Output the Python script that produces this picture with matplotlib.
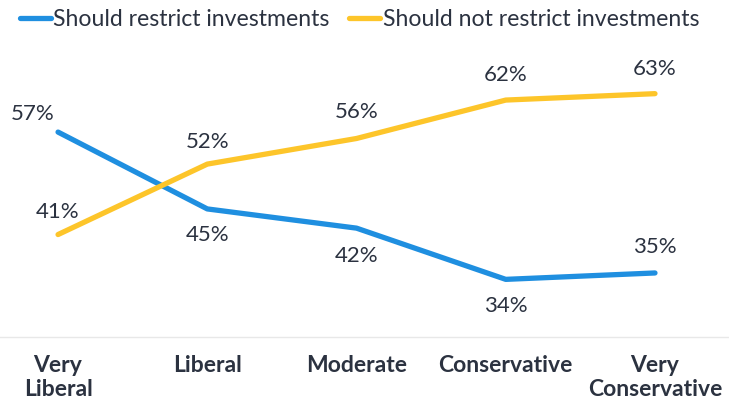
import matplotlib.pyplot as plt

plt.rcParams['font.family'] = ['Lato', 'DejaVu Sans']

# data
categories = ['Very\nLiberal', 'Liberal', 'Moderate', 'Conservative', 'Very\nConservative']
restrict = [57, 45, 42, 34, 35]
not_restrict = [41, 52, 56, 62, 63]

blue = '#1f8fe0'
yellow = '#fdc52a'
text_col = '#2b3240'

fig = plt.figure(figsize=(7.29, 4.07), dpi=100)
ax = fig.add_axes([0, 0.172, 1, 0.708])

x = list(range(len(categories)))
ax.plot(x, restrict, color=blue, lw=3.8, solid_capstyle='round', label='Should restrict investments')
ax.plot(x, not_restrict, color=yellow, lw=3.8, solid_capstyle='round', label='Should not restrict investments')

# value labels (offsets in points)
blue_off = [(-18, 13), (0, -19), (0, -20), (0, -19), (0, 19)]
yellow_off = [(0, 16), (0, 16), (0, 19), (0, 18), (0, 18)]
for i in x:
    ax.annotate(f'{restrict[i]}%', (i, restrict[i]), xytext=blue_off[i], textcoords='offset points',
                ha='center', va='center', fontsize=16, color=text_col)
    ax.annotate(f'{not_restrict[i]}%', (i, not_restrict[i]), xytext=yellow_off[i], textcoords='offset points',
                ha='center', va='center', fontsize=16, color=text_col)

ax.set_xlim(-0.389, 4.496)
ax.set_ylim(25, 70)
ax.set_xticks(x)
ax.set_xticklabels(categories, fontsize=16.5, fontweight='bold', color=text_col, linespacing=1.15)
ax.tick_params(axis='x', length=0, pad=13)
ax.set_yticks([])
for s in ['top', 'right', 'left']:
    ax.spines[s].set_visible(False)
ax.spines['bottom'].set_color('#e8e8e8')
ax.spines['bottom'].set_linewidth(1)

fig.legend(loc='center left', bbox_to_anchor=(0.027, 0.951), ncol=2, frameon=False,
           fontsize=16.6, handlelength=1.35, handletextpad=0.1, columnspacing=0.85,
           labelcolor=text_col, borderaxespad=0, borderpad=0)

fig.savefig('out.png', dpi=100)
